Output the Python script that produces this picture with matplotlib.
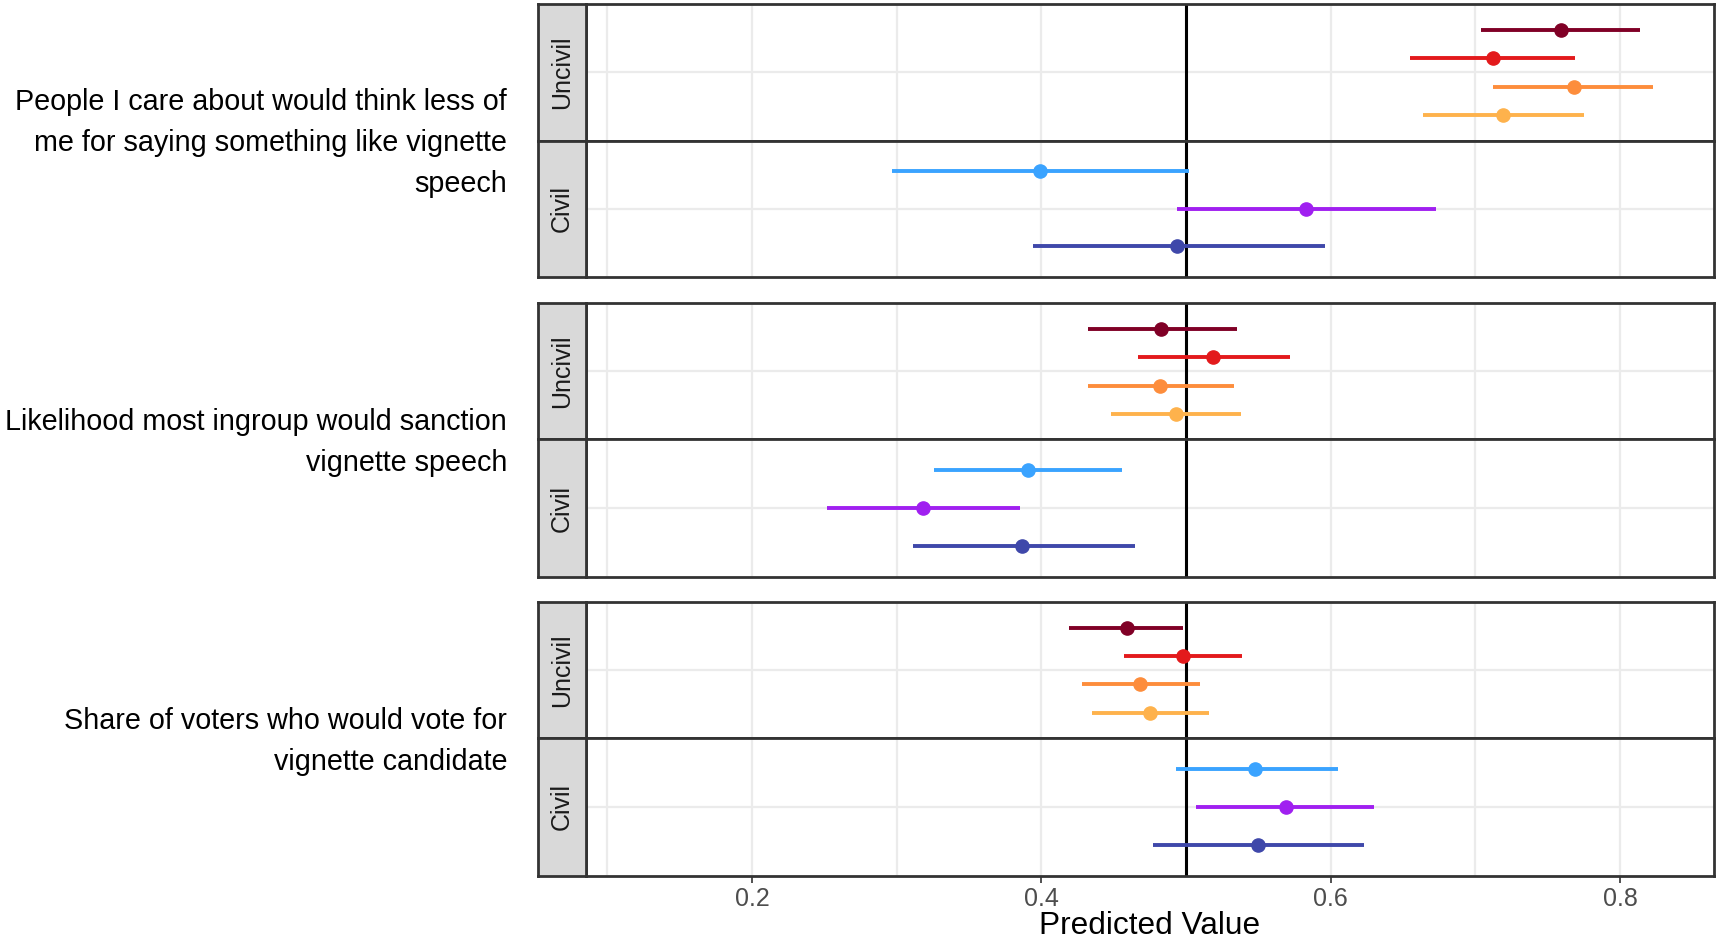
import matplotlib.pyplot as plt
import numpy as np

plt.rcParams['font.family'] = ['Liberation Sans', 'DejaVu Sans']

outcomes = ['People I care about would think less of\nme for saying something like vignette\nspeech',
            'Likelihood most ingroup would sanction\nvignette speech',
            'Share of voters who would vote for\nvignette candidate']

# colores por grupo (de arriba hacia abajo dentro de cada faceta)
uncivil_colors = ['#800026', '#E31A1C', '#FD8D3C', '#FEB24C']
civil_colors = ['#3AA3FF', '#A020F0', '#3F48AA']

# estimaciones: punto, limite inferior, limite superior
uncivil_est = [[0.759, 0.712, 0.768, 0.719],
               [0.483, 0.519, 0.482, 0.493],
               [0.459, 0.498, 0.468, 0.475]]
uncivil_lo = [[0.704, 0.655, 0.712, 0.664],
              [0.432, 0.467, 0.432, 0.448],
              [0.419, 0.457, 0.428, 0.435]]
uncivil_hi = [[0.814, 0.769, 0.823, 0.775],
              [0.535, 0.572, 0.533, 0.538],
              [0.498, 0.539, 0.510, 0.516]]

civil_est = [[0.399, 0.583, 0.494],
             [0.391, 0.318, 0.387],
             [0.548, 0.569, 0.550]]
civil_lo = [[0.297, 0.494, 0.394],
            [0.326, 0.252, 0.311],
            [0.493, 0.507, 0.477]]
civil_hi = [[0.502, 0.673, 0.596],
            [0.456, 0.385, 0.465],
            [0.605, 0.630, 0.623]]

W, H = 1735, 942
fig = plt.figure(figsize=(W / 100, H / 100), dpi=100)

x0, x1 = 585.6, 1714
sx0 = 538
panels_y = [(4.4, 140.6, 276.7), (303.3, 439.4, 576.7), (602.2, 738.3, 875.6)]


def frac_box(left, top, right, bottom):
    return [left / W, 1 - bottom / H, (right - left) / W, (bottom - top) / H]


def draw_facet(ax, est, lo, hi, colors, show_x):
    n = len(est)
    pos = 1 + (np.arange(n)[::-1] - (n - 1) / 2) / n
    ax.set_xlim(0.085, 0.865)
    ax.set_ylim(0.4, 1.6)
    ax.set_xticks([0.2, 0.4, 0.6, 0.8])
    ax.set_xticks([0.1, 0.3, 0.5, 0.7], minor=True)
    ax.set_yticks([1])
    ax.grid(True, which='both', color='#EBEBEB', linewidth=1.6)
    ax.set_axisbelow(True)
    ax.axvline(0.5, color='black', linewidth=2.2, zorder=2)
    for i in range(n):
        ax.hlines(pos[i], lo[i], hi[i], color=colors[i], linewidth=2.8, zorder=3)
        ax.plot(est[i], pos[i], 'o', color=colors[i], markersize=9.5, zorder=4)
    for s in ax.spines.values():
        s.set_color('#333333')
        s.set_linewidth(2)
    ax.tick_params(axis='y', left=False, labelleft=False)
    ax.tick_params(axis='x', which='minor', bottom=False)
    if show_x:
        ax.tick_params(axis='x', which='major', color='#333333', length=5, width=1.2,
                       labelsize=18, labelcolor='#4D4D4D', pad=3)
    else:
        ax.tick_params(axis='x', which='both', bottom=False, labelbottom=False)


def draw_strip(top, bottom, label):
    sax = fig.add_axes(frac_box(sx0, top, x0, bottom))
    sax.set_facecolor('#D9D9D9')
    sax.set_xticks([])
    sax.set_yticks([])
    for s in sax.spines.values():
        s.set_color('#333333')
        s.set_linewidth(2)
    sax.text(0.5, 0.5, label, rotation=90, ha='center', va='center',
             fontsize=18, color='#1A1A1A', transform=sax.transAxes)


for k in range(3):
    top, mid, bot = panels_y[k]
    ax_u = fig.add_axes(frac_box(x0, top, x1, mid))
    draw_facet(ax_u, uncivil_est[k], uncivil_lo[k], uncivil_hi[k], uncivil_colors, False)
    ax_c = fig.add_axes(frac_box(x0, mid, x1, bot))
    draw_facet(ax_c, civil_est[k], civil_lo[k], civil_hi[k], civil_colors, k == 2)
    draw_strip(top, mid, 'Uncivil')
    draw_strip(mid, bot, 'Civil')
    fig.text(507 / W, 1 - ((top + bot) / 2 + 2.5) / H, outcomes[k], ha='right', va='center',
             fontsize=20.7, color='black', linespacing=1.6)

fig.text(((x0 + x1) / 2) / W, 1 - 926 / H, 'Predicted Value', ha='center', va='center',
         fontsize=22.8, color='black')

fig.savefig('out.png', dpi=100)
